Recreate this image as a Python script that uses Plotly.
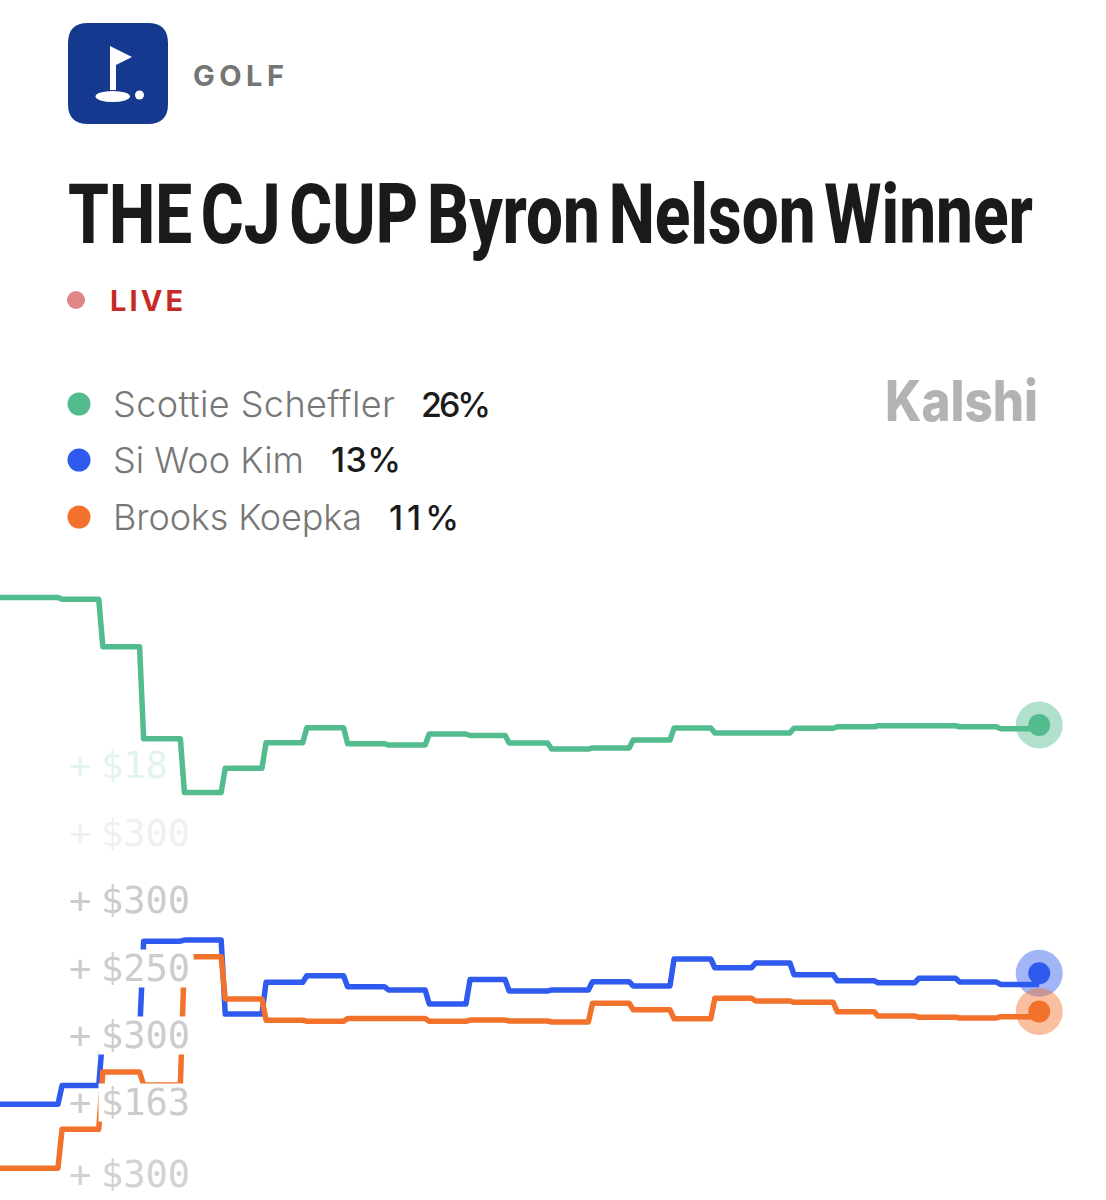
import plotly.graph_objects as go

W = 1106
H = 1200

# step boundaries in hours, each level runs from one boundary to the next
boundaries = [-1, 1, 2, 3, 4, 5, 6, 7, 8, 9, 10, 11, 11.96, 13, 14, 15, 16, 17, 18, 18.94, 20, 21, 22, 23, 24, 25]

scheffler = [32.68, 32.58, 30.10, 25.28, 22.46, 23.73, 25.07, 25.86, 25.02, 24.95, 25.53, 25.45, 25.06,
             24.74, 24.80, 25.21, 25.84, 25.58, 25.58, 25.83, 25.91, 25.96, 25.96, 25.91, 25.81]
kim = [6.14, 7.12, 9.77, 14.68, 14.74, 10.87, 12.53, 12.87, 12.30, 12.13, 11.39, 12.67, 12.07,
       12.13, 12.56, 12.34, 13.75, 13.29, 13.54, 12.93, 12.61, 12.51, 12.74, 12.54, 12.42]
koepka = [2.79, 4.83, 7.83, 7.15, 13.87, 11.65, 10.54, 10.49, 10.64, 10.64, 10.49, 10.55, 10.50,
          10.45, 11.43, 11.09, 10.62, 11.69, 11.55, 11.48, 10.99, 10.76, 10.70, 10.66, 10.73]

names = ["Scottie Scheffler", "Si Woo Kim", "Brooks Koepka"]
current = [26, 13, 11]
colors = ["#52bc8e", "#2f5aee", "#f2722b"]

bet_labels = ["$18", "$300", "$300", "$250", "$300", "$163", "$300"]
bet_colors = ["#e2f4ed", "#f0f0f0", "#cccccc", "#cccccc", "#cccccc", "#cccccc", "#d2d2d2"]
bet_rows = [765, 833, 900, 968, 1035, 1102, 1174]

SLANT = 0.05


def px(x):
    return x / W


def py(y):
    return 1 - y / H


def step_path(levels):
    xs = []
    ys = []
    for i, level in enumerate(levels):
        xs += [boundaries[i] + SLANT, boundaries[i + 1] - SLANT]
        ys += [level, level]
    xs[-1] = boundaries[-1]
    return xs, ys


def label(text, x, y, size, color, family="Inter", weight=400, **kw):
    return dict(text=text, x=px(x), y=py(y), xref="paper", yref="paper", xanchor="left", yanchor="middle",
                align="left", showarrow=False, font=dict(family=family, size=size, color=color, weight=weight), **kw)


def circle(x, y, r, color):
    return dict(type="circle", xref="paper", yref="paper", x0=px(x - r), x1=px(x + r), y0=py(y + r), y1=py(y - r),
                fillcolor=color, line_width=0)


def path_shape(points, color):
    d = "M" + " L".join("%.5f,%.5f" % (px(a), py(b)) for a, b in points) + " Z"
    return dict(type="path", xref="paper", yref="paper", path=d, fillcolor=color, line_width=0)


fig = go.Figure()

for levels, name, color in zip([scheffler, kim, koepka], names, colors):
    xs, ys = step_path(levels)
    fig.add_trace(go.Scatter(x=xs, y=ys, mode="lines", name=name, line=dict(color=color, width=5.5, simplify=False)))

for value, name, color in zip(current, names, colors):
    fig.add_trace(go.Scatter(x=[boundaries[-1]], y=[value], mode="markers", name=name,
                             marker=dict(color=color, size=47, opacity=0.45, line_width=0)))
for value, name, color in zip(current, names, colors):
    fig.add_trace(go.Scatter(x=[boundaries[-1]], y=[value], mode="markers", name=name,
                             marker=dict(color=color, size=22, line_width=0)))

# logo
r = 20
logo = "M%.5f,%.5f" % (px(68 + r), py(23))
logo += " L%.5f,%.5f Q%.5f,%.5f %.5f,%.5f" % (px(168 - r), py(23), px(168), py(23), px(168), py(23 + r))
logo += " L%.5f,%.5f Q%.5f,%.5f %.5f,%.5f" % (px(168), py(124 - r), px(168), py(124), px(168 - r), py(124))
logo += " L%.5f,%.5f Q%.5f,%.5f %.5f,%.5f" % (px(68 + r), py(124), px(68), py(124), px(68), py(124 - r))
logo += " L%.5f,%.5f Q%.5f,%.5f %.5f,%.5f Z" % (px(68), py(23 + r), px(68), py(23), px(68 + r), py(23))

shapes = [
    dict(type="path", xref="paper", yref="paper", path=logo, fillcolor="#15398f", line_width=0),
    path_shape([(110, 46), (132, 57), (116, 65), (116, 90), (110, 90)], "white"),
    dict(type="circle", xref="paper", yref="paper", x0=px(95.5), x1=px(130), y0=py(102), y1=py(91),
         fillcolor="white", line_width=0),
    circle(139.5, 95, 4.5, "white"),
    circle(76, 300, 9, "#e08686"),
]
for y, color in zip([404, 460, 517], colors):
    shapes.append(circle(79, y, 11.5, color))

annotations = [
    label("GOLF", 191, 75, 29, "#757575", weight=700),
    label("THE CJ CUP Byron Nelson Winner", 66, 219, 70, "#1a1a1a", family="Roboto", weight=800),
    label("LIVE", 108, 300, 29, "#c52b24", weight=700),
    label("Kalshi", 883, 401, 56, "#b3b3b3", weight=800),
]
for name, pct, y, x in zip(names, current, [404, 460, 517], [419, 329, 387]):
    annotations.append(label(name, 111, y, 36, "#777777", weight=300))
    annotations.append(label("%d%%" % pct, x, y, 34, "#1a1a1a", weight=500))

# the $ amounts sit on a white patch that hides the lines behind them
for text, color, y in zip(bet_labels, bet_colors, bet_rows):
    annotations.append(label("+", 67, y, 37, color, family="DejaVu Sans Mono"))
    annotations.append(label(text, 98, y, 37, color, family="DejaVu Sans Mono", bgcolor="white",
                             width=23.5 * len(text) - 4, height=33, borderpad=2))

fig.update_layout(
    width=W, height=H, margin=dict(l=0, r=0, t=0, b=0), showlegend=False,
    paper_bgcolor="white", plot_bgcolor="white",
    xaxis=dict(visible=False, range=[-0.4706, 26.637], fixedrange=True),
    yaxis=dict(visible=False, range=[1.131, 63.958], fixedrange=True),
    shapes=shapes, annotations=annotations,
)

post = """
document.body.style.margin = '0';
document.querySelectorAll('.js-line').forEach(function (p) { p.style.strokeLinejoin = 'round'; });
var fit = {'THE CJ CUP Byron Nelson Winner': [965, 'spacingAndGlyphs'], 'Kalshi': [153, 'spacingAndGlyphs'],
           'GOLF': [91, 'spacing'], 'LIVE': [73, 'spacing'],
           'Scottie Scheffler': [282, 'spacing'], 'Si Woo Kim': [191, 'spacing'], 'Brooks Koepka': [249, 'spacing'],
           '26%': [70, 'spacing'], '13%': [70, 'spacing'], '11%': [70, 'spacing']};
document.querySelectorAll('.annotation-text').forEach(function (t) {
    var f = fit[t.textContent];
    if (f) { t.setAttribute('textLength', f[0]); t.setAttribute('lengthAdjust', f[1]); }
    if (t.textContent.indexOf('THE CJ') === 0) {
        // condensed look: narrower word gaps and taller glyphs
        var b = parseFloat(t.getAttribute('y'));
        t.style.wordSpacing = '-8px';
        t.setAttribute('transform', 'translate(0,' + b + ') scale(1,1.2) translate(0,' + (-b) + ')');
    }
});
"""
fig.write_html("out.html", post_script=post, config={"displayModeBar": False})
